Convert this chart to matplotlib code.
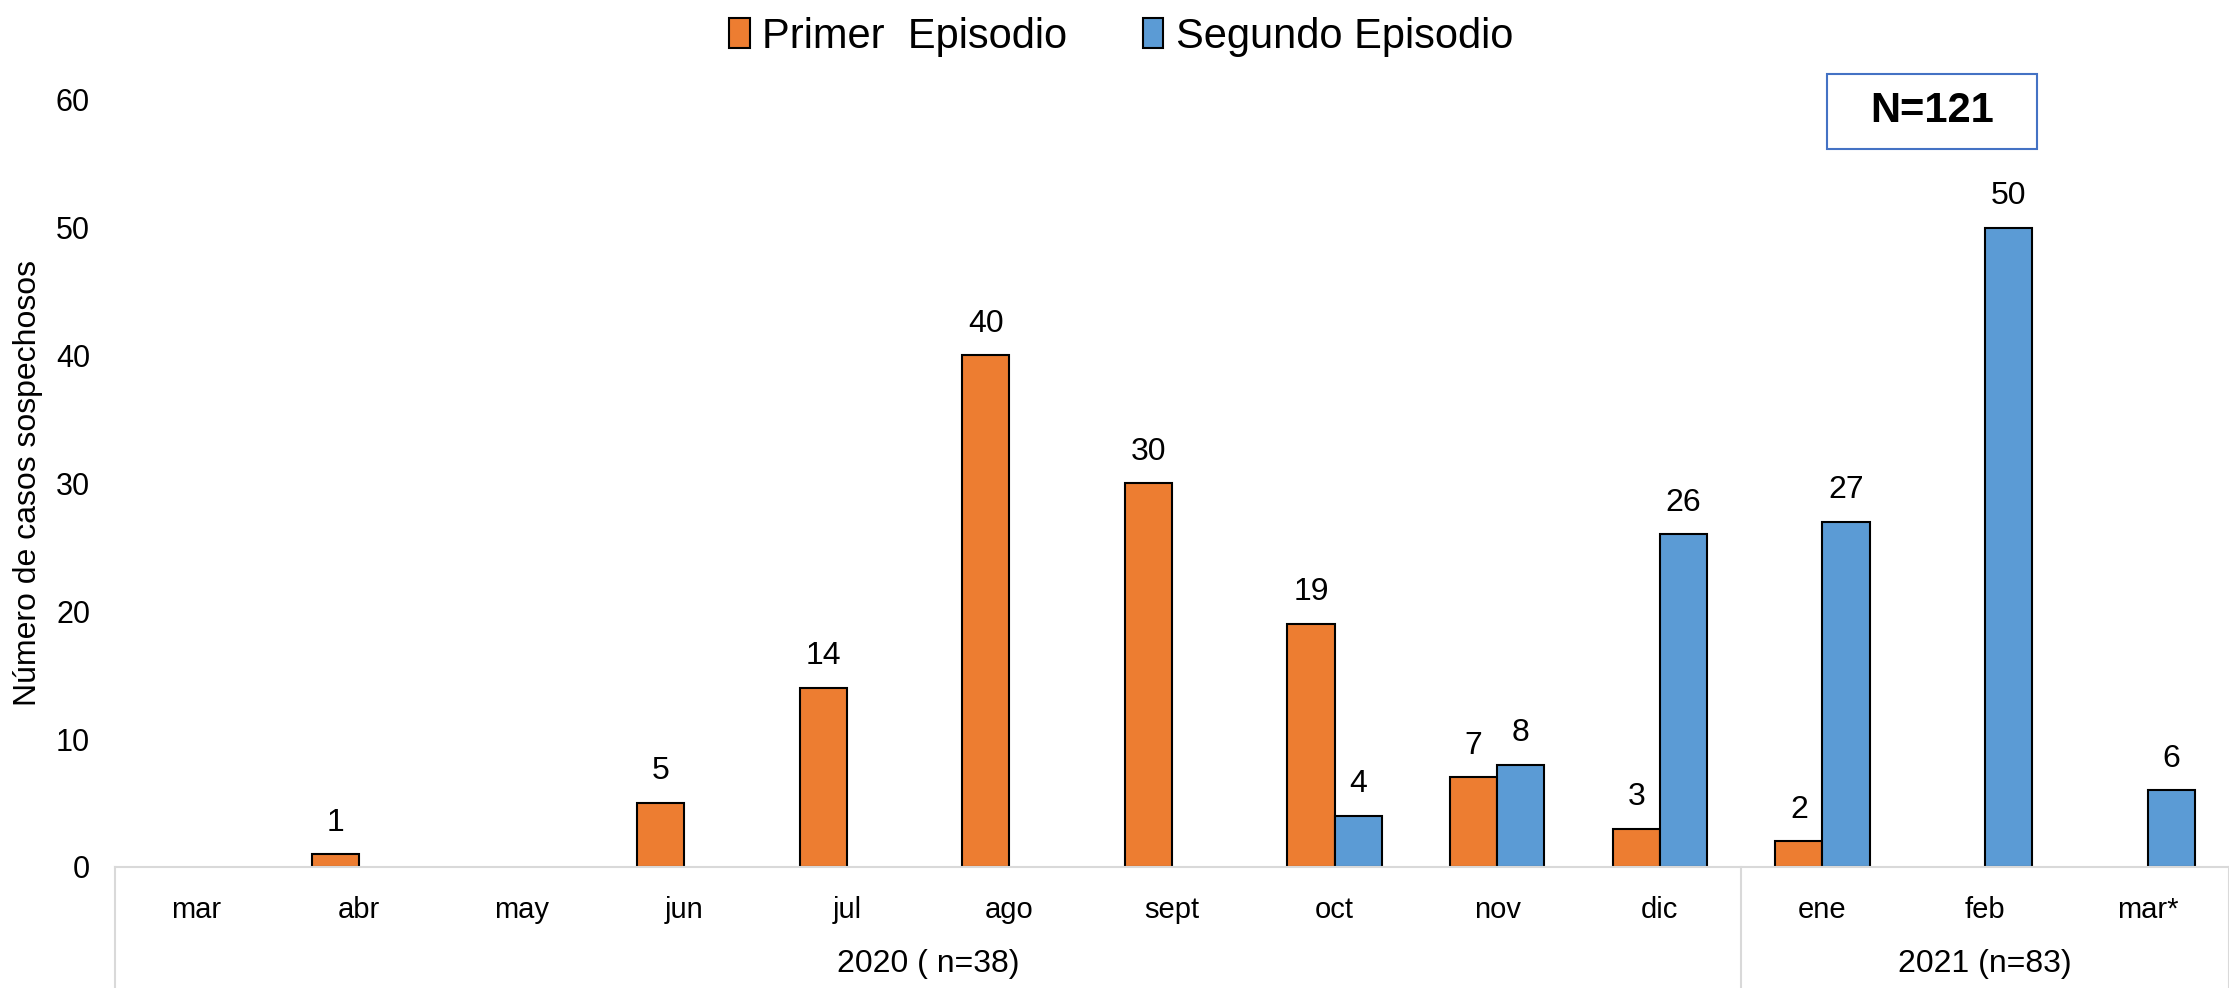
import matplotlib
matplotlib.use("Agg")
import matplotlib.pyplot as plt
import matplotlib.transforms as mtransforms
from matplotlib.patches import Patch, Rectangle
import numpy as np

plt.rcParams['font.family'] = ['Liberation Sans', 'DejaVu Sans']

# data
months = ['mar', 'abr', 'may', 'jun', 'jul', 'ago', 'sept', 'oct', 'nov', 'dic', 'ene', 'feb', 'mar*']
primer = [0, 1, 0, 5, 14, 40, 30, 19, 7, 3, 2, 0, 0]
segundo = [0, 0, 0, 0, 0, 0, 0, 4, 8, 26, 27, 50, 6]
year_labels = ['2020 ( n=38)', '2021 (n=83)']
year_spans = [(0, 10), (10, 13)]
total_label = 'N=121'

orange = '#ED7D31'
blue = '#5B9BD5'
grid_grey = '#D9D9D9'

fig = plt.figure(figsize=(22.29, 9.88), dpi=100)
ax = fig.add_axes([0.0516, 0.1225, 0.9484, 0.7766])

x = np.arange(len(months)) + 0.5
w = 0.29
p_vals = np.array(primer, dtype=float)
s_vals = np.array(segundo, dtype=float)
p_mask = p_vals > 0
s_mask = s_vals > 0

ax.bar(x[p_mask] - w / 2, p_vals[p_mask], width=w, color=orange, edgecolor='black', linewidth=1.5)
ax.bar(x[s_mask] + w / 2, s_vals[s_mask], width=w, color=blue, edgecolor='black', linewidth=1.5)

for xi, v in zip(x[p_mask] - w / 2, p_vals[p_mask]):
    ax.text(xi, v + 1.3, f'{int(v)}', ha='center', va='bottom', fontsize=23)
for xi, v in zip(x[s_mask] + w / 2, s_vals[s_mask]):
    ax.text(xi, v + 1.3, f'{int(v)}', ha='center', va='bottom', fontsize=23)

ax.set_xlim(0, len(months))
ax.set_ylim(0, 60)
ax.set_yticks(np.arange(0, 61, 10))
ax.tick_params(axis='y', length=0, pad=18, labelsize=22)
ax.set_xticks([])
for side in ['left', 'right', 'top']:
    ax.spines[side].set_visible(False)
ax.spines['bottom'].set_color(grid_grey)
ax.spines['bottom'].set_linewidth(1.5)

ax.set_ylabel('Número de casos sospechosos', fontsize=23)
ax.yaxis.set_label_coords(-0.034, 0.5)

# category axis with two levels
trans = mtransforms.blended_transform_factory(ax.transData, ax.transAxes)
for xi, m in zip(x, months):
    ax.text(xi, -0.056, m, transform=trans, ha='center', va='center', fontsize=21)
for (a, b), lab in zip(year_spans, year_labels):
    ax.text((a + b) / 2, -0.127, lab, transform=trans, ha='center', va='center', fontsize=23)
for xs in [0, 10, 13]:
    ax.plot([xs, xs], [0, -0.16], transform=trans, color=grid_grey, lw=1.5, clip_on=False)

# legend
handles = [Patch(facecolor=orange, edgecolor='black', linewidth=1.5),
           Patch(facecolor=blue, edgecolor='black', linewidth=1.5)]
fig.legend(handles, ['Primer  Episodio', 'Segundo Episodio'], loc='center',
           bbox_to_anchor=(0.503, 0.963), ncol=2, frameon=False, fontsize=30,
           handlelength=0.5, handleheight=0.75, handletextpad=0.3, columnspacing=1.8)

# total box
fig.patches.append(Rectangle((0.8197, 0.849), 0.0942, 0.0759, transform=fig.transFigure,
                             facecolor='white', edgecolor='#4472C4', linewidth=1.5))
fig.text(0.8668, 0.8872, total_label, ha='center', va='center', fontsize=30, fontweight='bold')

fig.savefig('out.png', dpi=100)
